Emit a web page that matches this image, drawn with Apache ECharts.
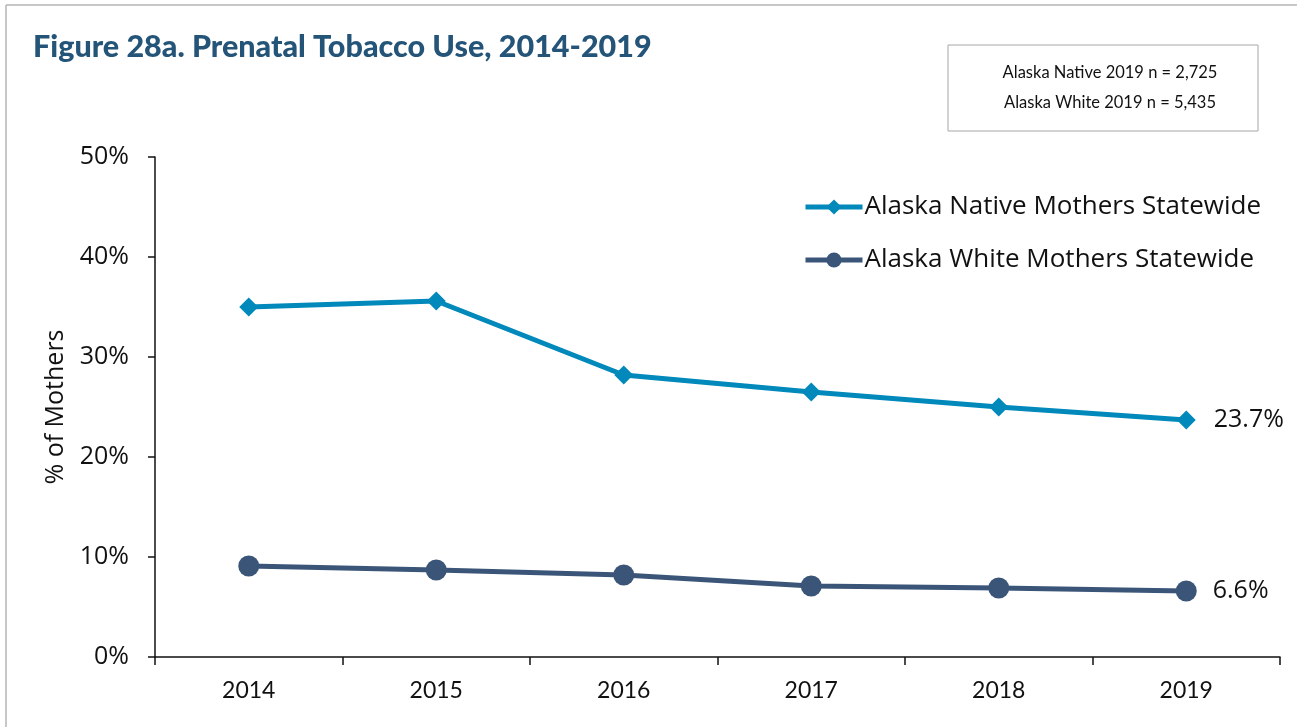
<!DOCTYPE html>
<html>
<head>
<meta charset="utf-8">
<title>Prenatal Tobacco Use, 2014-2019</title>
<script src="https://cdn.jsdelivr.net/npm/echarts@6/dist/echarts.min.js"></script>
<style>
  html, body { margin: 0; padding: 0; background: #fff; }
  #chart { width: 1297px; height: 727px; }
</style>
</head>
<body>
<div id="chart"></div>
<script>
// Survey years on the category axis
const years = ['2014', '2015', '2016', '2017', '2018', '2019'];

// Share of mothers using tobacco during pregnancy (%)
const nativeMothers = [35.0, 35.6, 28.2, 26.5, 25.0, 23.7];
const whiteMothers = [9.1, 8.7, 8.2, 7.1, 6.9, 6.6];

const seriesNames = ['Alaska Native Mothers Statewide', 'Alaska White Mothers Statewide'];
const sampleNotes = ['Alaska Native 2019 n = 2,725', 'Alaska White 2019 n = 5,435'];

const yTicks = { min: 0, max: 50, interval: 10 };

const FONT = 'Lato, "Open Sans", sans-serif';
const LEGEND_FONT = '"Open Sans", Lato, sans-serif';
const NATIVE_COLOR = '#0089BA';
const WHITE_COLOR = '#3B5578';

// Put a value label only on the most recent year
function lastPointLabel(arr) {
  return arr.map((v, i) => i === arr.length - 1
    ? { value: v, label: { show: true } }
    : v);
}

const chart = echarts.init(document.getElementById('chart'), null, { renderer: 'canvas' });

chart.setOption({
  animation: false,
  backgroundColor: '#fff',
  textStyle: { fontFamily: FONT },
  title: {
    text: 'Figure 28a. Prenatal Tobacco Use, 2014-2019',
    left: 28,
    top: 27,
    textStyle: {
      fontFamily: FONT,
      fontWeight: 900,
      fontSize: 30.5,
      color: '#245478'
    }
  },
  graphic: [
    // page frame
    { type: 'line', shape: { x1: 6, y1: 5, x2: 1297, y2: 5 }, style: { stroke: '#b4b4b4', lineWidth: 1.5 } },
    { type: 'line', shape: { x1: 6, y1: 5, x2: 6, y2: 727 }, style: { stroke: '#b4b4b4', lineWidth: 1.5 } },
    // sample size box
    { type: 'rect', shape: { x: 948, y: 45, width: 310, height: 86 }, style: { fill: '#fff', stroke: '#a6a6a6', lineWidth: 1 } },
    { type: 'text', x: 1110, y: 73, style: { text: sampleNotes[0], align: 'center', verticalAlign: 'middle', font: '16.5px ' + FONT, fill: '#111' } },
    { type: 'text', x: 1110, y: 103, style: { text: sampleNotes[1], align: 'center', verticalAlign: 'middle', font: '16.5px ' + FONT, fill: '#111' } }
  ],
  legend: {
    orient: 'vertical',
    left: 803,
    top: 194,
    padding: 0,
    itemWidth: 57,
    itemHeight: 19,
    itemGap: 27,
    lineStyle: { width: 5 },
    textStyle: { fontFamily: LEGEND_FONT, fontSize: 26, color: '#111', padding: [0, 0, 0, -3] },
    data: seriesNames
  },
  grid: { left: 155, right: 17, top: 157, bottom: 70, containLabel: false },
  xAxis: {
    type: 'category',
    data: years,
    boundaryGap: true,
    axisLine: { lineStyle: { color: '#111', width: 1.5 } },
    axisTick: { show: true, length: 8, inside: false, lineStyle: { color: '#111', width: 1.5 } },
    axisLabel: { fontFamily: FONT, fontSize: 23, color: '#111', margin: 22 },
    splitLine: { show: false }
  },
  yAxis: {
    type: 'value',
    min: yTicks.min,
    max: yTicks.max,
    interval: yTicks.interval,
    name: '% of Mothers',
    nameLocation: 'middle',
    nameGap: 86,
    nameRotate: 90,
    nameTextStyle: { fontFamily: LEGEND_FONT, fontSize: 25, color: '#111' },
    axisLine: { show: true, lineStyle: { color: '#111', width: 1.5 } },
    axisTick: { show: true, length: 7, lineStyle: { color: '#111', width: 1.5 } },
    axisLabel: { fontFamily: LEGEND_FONT, fontSize: 25, color: '#111', margin: 26, formatter: '{value}%' },
    splitLine: { show: false }
  },
  series: [
    {
      name: seriesNames[0],
      type: 'line',
      data: lastPointLabel(nativeMothers),
      symbol: 'diamond',
      symbolSize: 19,
      color: NATIVE_COLOR,
      lineStyle: { width: 5, color: NATIVE_COLOR },
      itemStyle: { color: NATIVE_COLOR },
      label: {
        show: false,
        position: 'right',
        distance: 18,
        fontFamily: LEGEND_FONT,
        fontSize: 25,
        color: '#111',
        formatter: p => p.value + '%'
      }
    },
    {
      name: seriesNames[1],
      type: 'line',
      data: lastPointLabel(whiteMothers),
      symbol: 'circle',
      symbolSize: 21,
      color: WHITE_COLOR,
      lineStyle: { width: 5, color: WHITE_COLOR },
      itemStyle: { color: WHITE_COLOR },
      label: {
        show: false,
        position: 'right',
        distance: 16,
        fontFamily: LEGEND_FONT,
        fontSize: 25,
        color: '#111',
        formatter: p => p.value + '%'
      }
    }
  ]
});
</script>
</body>
</html>
